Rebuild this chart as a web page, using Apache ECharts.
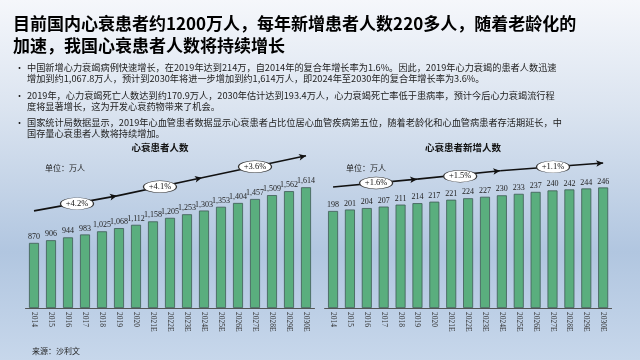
<!DOCTYPE html>
<html>
<head>
<meta charset="utf-8">
<script src="https://cdn.jsdelivr.net/npm/echarts@6/dist/echarts.min.js"></script>
<style>
html,body{margin:0;padding:0;background:#c6d6ea;}
#c{width:640px;height:360px;}
</style>
</head>
<body>
<div id="c"></div>
<script>
// ---- data ----
const years = ['2014','2015','2016','2017','2018','2019','2020','2021E','2022E','2023E','2024E','2025E','2026E','2027E','2028E','2029E','2030E'];
const patients = [870,906,944,983,1025,1068,1112,1158,1205,1253,1303,1353,1404,1457,1509,1562,1614];
const newPatients = [198,201,204,207,211,214,217,221,224,227,230,233,237,240,242,244,246];
const growthLeft = ['+4.2%','+4.1%','+3.6%'];
const growthRight = ['+1.6%','+1.5%','+1.1%'];
// trend arrow points: [category position, value]
const trendLeft = [[0,1298],[4.88,1499],[9.88,1740],[16,2035]];
const trendRight = [[0,247],[4.98,263],[9.9,280],[16,296]];
// annotation anchors: [category position, value]
const badgeLeft = [[2.53,1395],[7.41,1620],[13.0,1888]];
const badgeRight = [[2.55,255],[7.53,269],[13.03,288]];

const titleText1 = '目前国内心衰患者约1200万人，每年新增患者人数220多人，随着老龄化的\n加速，我国心衰患者人数将持续增长';
const bullets = [
  '中国新增心力衰竭病例快速增长，在2019年达到214万，自2014年的复合年增长率为1.6%。因此，2019年心力衰竭的患者人数迅速\n增加到约1,067.8万人，预计到2030年将进一步增加到约1,614万人，即2024年至2030年的复合年增长率为3.6%。',
  '2019年，心力衰竭死亡人数达到约170.9万人，2030年估计达到193.4万人，心力衰竭死亡率低于患病率，预计今后心力衰竭流行程\n度将显著增长，这为开发心衰药物带来了机会。',
  '国家统计局数据显示，2019年心血管患者数据显示心衰患者占比位居心血管疾病第五位，随着老龄化和心血管病患者存活期延长，中\n国存量心衰患者人数将持续增加。'
];
const chartTitles = ['心衰患者人数','心衰患者新增人数'];
const unitText = '单位：万人';
const sourceText = '来源：沙利文';

// ---- chart ----
const chart = echarts.init(document.getElementById('c'), null, {renderer:'canvas'});
const cjk = '"Noto Sans CJK SC","Noto Sans",sans-serif';
const serif = '"Liberation Serif","DejaVu Serif",serif';
const fmt = v => v.toLocaleString('en-US');

function segs(pts){
  const out = [];
  for(let i=0;i<pts.length-1;i++){
    out.push([{coord:pts[i]},{coord:pts[i+1]}]);
  }
  return out;
}

const titles = [
  {text:titleText1, left:8, top:8, textStyle:{fontFamily:cjk, fontSize:17, fontWeight:'bold', color:'#000', lineHeight:22}},
  {text:chartTitles[0], left:155, top:138, textAlign:'center', textStyle:{fontFamily:cjk, fontSize:9.5, fontWeight:'bold', color:'#111'}},
  {text:chartTitles[1], left:458, top:138, textAlign:'center', textStyle:{fontFamily:cjk, fontSize:9.5, fontWeight:'bold', color:'#111'}},
  {text:unitText, left:40, top:159, textStyle:{fontFamily:cjk, fontSize:8, fontWeight:'normal', color:'#222'}},
  {text:unitText, left:341, top:159, textStyle:{fontFamily:cjk, fontSize:8, fontWeight:'normal', color:'#222'}},
  {text:sourceText, left:27, top:342, textStyle:{fontFamily:cjk, fontSize:8, fontWeight:'normal', color:'#222'}}
];
const bulletTops = [57.5, 85.5, 112.5];
bullets.forEach((b,i)=>{
  titles.push({text:'•', left:10, top:bulletTops[i], textStyle:{fontFamily:cjk, fontSize:9, fontWeight:'normal', color:'#222', lineHeight:11}});
  titles.push({text:b, left:22, top:bulletTops[i], textStyle:{fontFamily:cjk, fontSize:9.2, fontWeight:'normal', color:'#222', lineHeight:11}});
});

function catAxis(gi){
  return {type:'category', gridIndex:gi, data:years, boundaryGap:true,
    axisLine:{show:true, lineStyle:{color:'#555', width:1}},
    axisTick:{show:false},
    axisLabel:{rotate:-90, interval:0, fontFamily:serif, fontSize:7.5, color:'#333', margin:4}};
}
function hiddenX(gi){
  return {type:'value', gridIndex:gi, min:-0.5, max:16.5, show:false};
}
function valY(gi,max){
  return {type:'value', gridIndex:gi, min:0, max:max, show:false, splitLine:{show:false}};
}
function barSeries(xi,yi,data){
  return {type:'bar', xAxisIndex:xi, yAxisIndex:yi, data:data, barWidth:10,
    itemStyle:{color:'#5aae7e', borderColor:'#3f5a55', borderWidth:0.8},
    label:{show:true, position:'top', distance:2, fontFamily:serif, fontSize:8, color:'#222', formatter:p=>fmt(p.value)},
    emphasis:{disabled:true}};
}
function trendSeries(xi,yi,pts){
  return {type:'line', xAxisIndex:xi, yAxisIndex:yi, data:[], z:3, silent:true,
    markLine:{silent:true, z:3, symbol:['none','arrow'], symbolSize:[5,7], animation:false,
      lineStyle:{color:'#111', width:1.6, type:'solid'}, label:{show:false},
      emphasis:{disabled:true}, data:segs(pts)}};
}
function badgeSeries(xi,yi,pts,labels){
  return {type:'scatter', xAxisIndex:xi, yAxisIndex:yi, z:20, silent:true,
    data:pts.map((p,i)=>({value:p, name:labels[i]})),
    symbol:'circle', symbolSize:[33,12],
    itemStyle:{color:'#fff', borderColor:'#333', borderWidth:0.8, opacity:1},
    label:{show:true, position:'inside', formatter:p=>p.name, fontFamily:serif, fontSize:8.5, color:'#111'}};
}

chart.setOption({
  animation:false,
  backgroundColor:new echarts.graphic.LinearGradient(0,0,0,1,[
    {offset:0,color:'#f5f7fb'},
    {offset:0.3,color:'#dbe4f0'},
    {offset:0.7,color:'#b1c6e0'},
    {offset:1,color:'#c7d7eb'}
  ]),
  title:titles,
  grid:[
    {left:25.5, width:289, top:143.4, height:164.6},
    {left:324.6, width:287, top:146.3, height:161.7}
  ],
  xAxis:[catAxis(0), catAxis(1), hiddenX(0), hiddenX(1)],
  yAxis:[valY(0,2200), valY(1,330)],
  series:[
    barSeries(0,0,patients),
    barSeries(1,1,newPatients),
    trendSeries(2,0,trendLeft),
    trendSeries(3,1,trendRight),
    badgeSeries(2,0,badgeLeft,growthLeft),
    badgeSeries(3,1,badgeRight,growthRight)
  ]
});
</script>
</body>
</html>
